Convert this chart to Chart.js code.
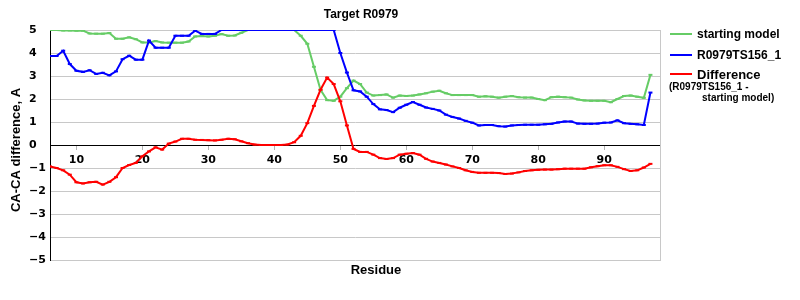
<!DOCTYPE html>
<html>
<head>
<meta charset="utf-8">
<title>Target R0979</title>
<script src="https://cdn.jsdelivr.net/npm/chart.js@4.4.0/dist/chart.umd.min.js"></script>
<style>
  html, body { margin: 0; padding: 0; background: #fff; }
  #wrap { position: relative; width: 800px; height: 300px; }
  #chart { position: absolute; left: 0; top: 0; }
  .legend-item { position: absolute; left: 670px; height: 20px; display: flex; align-items: center;
    font: bold 12px "Liberation Sans", Arial, sans-serif; color: #000; white-space: nowrap; }
  .legend-swatch { width: 22px; height: 2px; margin-right: 5px; }
  .legend-note { position: absolute; font: bold 10px "Liberation Sans", Arial, sans-serif;
    line-height: 12px; color: #000; white-space: nowrap; }
</style>
</head>
<body>
<div id="wrap">
  <canvas id="chart" width="800" height="300"></canvas>
  <div id="legend"></div>
</div>
<script>
// Chart data
const chartTitle = 'Target R0979';
const xTitle = 'Residue';
const yTitle = 'CA-CA difference, A';
const seriesLabels = ['starting model', 'R0979TS156_1', 'Difference'];
const diffNote = ['(R0979TS156_1 -', 'starting model)'];
const seriesColors = ['#66cc66', '#0000ff', '#ff0000'];

const xTickValues = [10, 20, 30, 40, 50, 60, 70, 80, 90];

const residues = [
  6, 7, 8, 9, 10, 11, 12, 13, 14, 15, 16, 17, 18, 19, 20, 21, 22, 23, 24, 25,
  26, 27, 28, 29, 30, 31, 32, 33, 34, 35, 36, 37, 38, 39, 40, 41, 42, 43, 44, 45,
  46, 47, 48, 49, 50, 51, 52, 53, 54, 55, 56, 57, 58, 59, 60, 61, 62, 63, 64, 65,
  66, 67, 68, 69, 70, 71, 72, 73, 74, 75, 76, 77, 78, 79, 80, 81, 82, 83, 84, 85,
  86, 87, 88, 89, 90, 91, 92, 93, 94, 95, 96, 97
];

const startingModel = [
  5.0, 5.0, 4.98, 4.98, 4.97, 4.97, 4.85, 4.84, 4.84, 4.87, 4.62, 4.62, 4.68, 4.6, 4.46,
  4.46, 4.52, 4.46, 4.45, 4.45, 4.45, 4.5, 4.72, 4.74, 4.72, 4.75, 4.82, 4.75, 4.76, 4.88,
  5.0, 5.0, 5.0, 5.0, 5.0, 5.0, 5.0, 5.0, 4.75, 4.4, 3.4, 2.4, 1.95, 1.92, 2.1,
  2.47, 2.8, 2.65, 2.28, 2.15, 2.17, 2.2, 2.06, 2.15, 2.13, 2.15, 2.2, 2.25, 2.32, 2.36,
  2.25, 2.17, 2.17, 2.17, 2.17, 2.1, 2.12, 2.1, 2.06, 2.1, 2.13, 2.08, 2.06, 2.06, 2.0,
  1.95, 2.08, 2.1, 2.08, 2.06, 1.98, 1.94, 1.92, 1.92, 1.92, 1.86, 2.0, 2.13, 2.15, 2.1,
  2.05, 3.05
];

const model156 = [
  3.87, 3.87, 4.1, 3.52, 3.23, 3.18, 3.25, 3.09, 3.14, 3.03, 3.2, 3.73, 3.88, 3.71, 3.71,
  4.54, 4.23, 4.23, 4.23, 4.75, 4.75, 4.75, 4.97, 4.83, 4.83, 4.83, 5.0, 5.0, 5.0, 5.0,
  5.0, 5.0, 5.0, 5.0, 5.0, 5.0, 5.0, 5.0, 5.0, 5.0, 5.0, 5.0, 5.0, 5.0, 4.0,
  3.15, 2.38, 2.33, 2.1, 1.78, 1.55, 1.52, 1.43, 1.62, 1.75, 1.87, 1.75, 1.63, 1.57, 1.5,
  1.32, 1.22, 1.15, 1.05, 0.97, 0.85, 0.87, 0.87, 0.82, 0.8, 0.85, 0.87, 0.88, 0.88, 0.88,
  0.9, 0.92, 0.98, 1.02, 1.02, 0.93, 0.92, 0.92, 0.93, 0.97, 0.98, 1.07, 0.95, 0.92, 0.9,
  0.87, 2.28
];

const difference = [
  -0.93, -1.0, -1.1, -1.29, -1.62, -1.67, -1.62, -1.6, -1.72, -1.6, -1.4, -1.0, -0.87, -0.78, -0.49,
  -0.28, -0.1, -0.2, 0.06, 0.15, 0.27, 0.27, 0.23, 0.22, 0.21, 0.2, 0.23, 0.27, 0.25, 0.16,
  0.08, 0.02, 0.0, 0.0, 0.0, 0.0, 0.02, 0.12, 0.4, 0.95, 1.7, 2.4, 2.93, 2.65, 1.9,
  0.85, -0.17, -0.3, -0.3, -0.42, -0.57, -0.61, -0.57, -0.42, -0.38, -0.35, -0.42, -0.6, -0.72, -0.78,
  -0.85, -0.93, -1.0, -1.1, -1.17, -1.21, -1.21, -1.21, -1.22, -1.26, -1.24, -1.19, -1.13, -1.1, -1.08,
  -1.07, -1.07, -1.05, -1.03, -1.03, -1.03, -1.03, -0.97, -0.92, -0.88, -0.88, -0.95, -1.05, -1.13, -1.1,
  -0.98, -0.82
];

const allSeries = [startingModel, model156, difference];

// Titles drawn around the plot
const chartTexts = {
  id: 'chartTexts',
  afterDraw(chart) {
    const { ctx, chartArea } = chart;
    const midX = (chartArea.left + chartArea.right) / 2;
    const midY = (chartArea.top + chartArea.bottom) / 2;
    ctx.save();
    ctx.fillStyle = '#000';
    ctx.textAlign = 'center';
    ctx.textBaseline = 'middle';
    ctx.font = 'bold 12px "Liberation Sans", Arial, sans-serif';
    ctx.fillText(chartTitle, midX + 6, 15);
    ctx.font = 'bold 13px "Liberation Sans", Arial, sans-serif';
    ctx.fillText(xTitle, midX + 21, chartArea.bottom + 10);
    ctx.translate(16, midY + 5);
    ctx.rotate(-Math.PI / 2);
    ctx.fillText(yTitle, 0, 0);
    ctx.restore();
  }
};

const tickFont = { family: '"DejaVu Sans", Verdana, sans-serif', size: 11, weight: 'bold' };

const ctx = document.getElementById('chart').getContext('2d');
const chart = new Chart(ctx, {
  type: 'line',
  data: {
    datasets: allSeries.map((values, i) => ({
      label: seriesLabels[i],
      data: residues.map((r, j) => ({ x: r, y: values[j] })),
      borderColor: seriesColors[i],
      backgroundColor: seriesColors[i],
      borderWidth: 2,
      pointStyle: 'line',
      pointRadius: 2,
      pointBorderWidth: 2,
      tension: 0,
      fill: false,
      order: 3 - i
    }))
  },
  options: {
    responsive: false,
    animation: false,
    devicePixelRatio: 1,
    layout: { padding: { left: 29, right: 140, top: 30, bottom: 40 } },
    plugins: {
      legend: { display: false },
      title: { display: false },
      tooltip: { enabled: false }
    },
    scales: {
      x: {
        type: 'linear',
        position: { y: 0 },
        min: 6,
        max: 98.45,
        afterBuildTicks(scale) {
          scale.ticks = xTickValues.map(v => ({ value: v }));
        },
        ticks: { color: '#000', font: tickFont, padding: 5, maxRotation: 0 },
        grid: { drawOnChartArea: false, drawTicks: true, tickLength: 4, tickColor: '#b4b4b4' },
        border: { color: '#000', width: 1 }
      },
      y: {
        min: -5,
        max: 5,
        ticks: {
          stepSize: 1,
          color: '#000',
          font: tickFont,
          crossAlign: 'far',
          callback: v => (v < 0 ? '\u2212' + Math.abs(v) : String(v))
        },
        afterFit(scale) { scale.width = 21; },
        grid: { color: '#c8c8c8', drawTicks: false },
        border: { color: '#000', width: 1 }
      },
      y2: {
        position: 'right',
        min: -5,
        max: 5,
        ticks: { display: false },
        afterFit(scale) { scale.width = 0; },
        grid: { drawOnChartArea: false, drawTicks: false },
        border: { color: '#c8c8c8', width: 1 }
      }
    }
  },
  plugins: [chartTexts]
});

// Legend on the right
const legend = document.getElementById('legend');
const legendCenters = [33.5, 55, 74];
seriesLabels.forEach((label, i) => {
  const item = document.createElement('div');
  item.className = 'legend-item';
  item.style.top = (legendCenters[i] - 10) + 'px';
  if (i === 2) item.style.fontSize = '13px';
  const sw = document.createElement('span');
  sw.className = 'legend-swatch';
  sw.style.background = seriesColors[i];
  const txt = document.createElement('span');
  txt.textContent = label;
  item.appendChild(sw);
  item.appendChild(txt);
  legend.appendChild(item);
});
const noteLeft = [669, 702];
const noteCenters = [86.7, 98];
diffNote.forEach((line, i) => {
  const n = document.createElement('div');
  n.className = 'legend-note';
  n.style.left = noteLeft[i] + 'px';
  n.style.top = (noteCenters[i] - 6) + 'px';
  n.textContent = line;
  legend.appendChild(n);
});
</script>
</body>
</html>
